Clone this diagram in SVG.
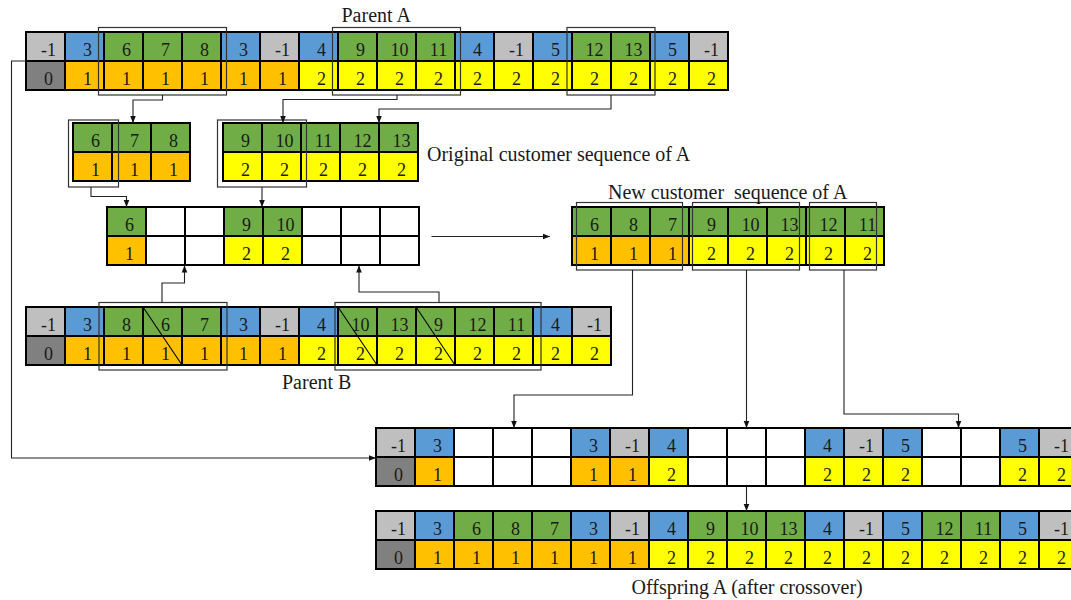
<svg xmlns="http://www.w3.org/2000/svg" width="1071" height="600" viewBox="0 0 1071 600">
<style>
rect{stroke:#000;stroke-width:2}
.l{fill:#BFBFBF}.d{fill:#808080}.b{fill:#5B9BD5}.g{fill:#70AD47}.o{fill:#FFC000}.y{fill:#FFFF00}.w{fill:#FFFFFF}
.br{fill:none;stroke:#333;stroke-width:1.2}
text{font-family:"Liberation Serif","Times New Roman",serif;fill:#1a1a1a}
.t{font-size:18px;text-anchor:middle}
.lab{font-size:20px;white-space:pre}
.c{fill:none;stroke:#222;stroke-width:1.1}
.dg{stroke:#000;stroke-width:1.1}
</style>
<defs>
<marker id="ah" viewBox="0 0 10 10" refX="10" refY="5" markerWidth="8" markerHeight="7" orient="auto" markerUnits="userSpaceOnUse"><path d="M0,1 L10,5 L0,9 z" fill="#111"/></marker>
</defs>

<g id="parentA">
<rect class="l" x="26" y="32" width="39" height="29"/><rect class="d" x="26" y="61" width="39" height="29"/>
<rect class="b" x="65" y="32" width="39" height="29"/><rect class="o" x="65" y="61" width="39" height="29"/>
<rect class="g" x="104" y="32" width="39" height="29"/><rect class="o" x="104" y="61" width="39" height="29"/>
<rect class="g" x="143" y="32" width="39" height="29"/><rect class="o" x="143" y="61" width="39" height="29"/>
<rect class="g" x="182" y="32" width="39" height="29"/><rect class="o" x="182" y="61" width="39" height="29"/>
<rect class="b" x="221" y="32" width="39" height="29"/><rect class="o" x="221" y="61" width="39" height="29"/>
<rect class="l" x="260" y="32" width="39" height="29"/><rect class="o" x="260" y="61" width="39" height="29"/>
<rect class="b" x="299" y="32" width="39" height="29"/><rect class="y" x="299" y="61" width="39" height="29"/>
<rect class="g" x="338" y="32" width="39" height="29"/><rect class="y" x="338" y="61" width="39" height="29"/>
<rect class="g" x="377" y="32" width="39" height="29"/><rect class="y" x="377" y="61" width="39" height="29"/>
<rect class="g" x="416" y="32" width="39" height="29"/><rect class="y" x="416" y="61" width="39" height="29"/>
<rect class="b" x="455" y="32" width="39" height="29"/><rect class="y" x="455" y="61" width="39" height="29"/>
<rect class="l" x="494" y="32" width="39" height="29"/><rect class="y" x="494" y="61" width="39" height="29"/>
<rect class="b" x="533" y="32" width="39" height="29"/><rect class="y" x="533" y="61" width="39" height="29"/>
<rect class="g" x="572" y="32" width="39" height="29"/><rect class="y" x="572" y="61" width="39" height="29"/>
<rect class="g" x="611" y="32" width="39" height="29"/><rect class="y" x="611" y="61" width="39" height="29"/>
<rect class="b" x="650" y="32" width="39" height="29"/><rect class="y" x="650" y="61" width="39" height="29"/>
<rect class="l" x="689" y="32" width="39" height="29"/><rect class="y" x="689" y="61" width="39" height="29"/>
<text class="t" y="55.5"><tspan x="48.5">-1</tspan><tspan x="87.5">3</tspan><tspan x="126.5">6</tspan><tspan x="165.5">7</tspan><tspan x="204.5">8</tspan><tspan x="243.5">3</tspan><tspan x="282.5">-1</tspan><tspan x="321.5">4</tspan><tspan x="360.5">9</tspan><tspan x="399.5">10</tspan><tspan x="438.5">11</tspan><tspan x="477.5">4</tspan><tspan x="516.5">-1</tspan><tspan x="555.5">5</tspan><tspan x="594.5">12</tspan><tspan x="633.5">13</tspan><tspan x="672.5">5</tspan><tspan x="711.5">-1</tspan></text>
<text class="t" y="84.5"><tspan x="48.5">0</tspan><tspan x="87.5">1</tspan><tspan x="126.5">1</tspan><tspan x="165.5">1</tspan><tspan x="204.5">1</tspan><tspan x="243.5">1</tspan><tspan x="282.5">1</tspan><tspan x="321.5">2</tspan><tspan x="360.5">2</tspan><tspan x="399.5">2</tspan><tspan x="438.5">2</tspan><tspan x="477.5">2</tspan><tspan x="516.5">2</tspan><tspan x="555.5">2</tspan><tspan x="594.5">2</tspan><tspan x="633.5">2</tspan><tspan x="672.5">2</tspan><tspan x="711.5">2</tspan></text>
<rect class="br" x="98.5" y="27.5" width="128" height="67.5"/>
<rect class="br" x="332.5" y="27.5" width="128" height="67.5"/>
<rect class="br" x="567" y="27.5" width="88" height="67.5"/>
<text class="lab" x="341.5" y="22">Parent A</text>
</g>

<g id="origA1">
<rect class="g" x="73" y="123" width="39" height="29"/><rect class="o" x="73" y="152" width="39" height="29"/>
<rect class="g" x="112" y="123" width="39" height="29"/><rect class="o" x="112" y="152" width="39" height="29"/>
<rect class="g" x="151" y="123" width="39" height="29"/><rect class="o" x="151" y="152" width="39" height="29"/>
<text class="t" y="146.5"><tspan x="95.5">6</tspan><tspan x="134.5">7</tspan><tspan x="173.5">8</tspan></text>
<text class="t" y="175.5"><tspan x="95.5">1</tspan><tspan x="134.5">1</tspan><tspan x="173.5">1</tspan></text>
<rect class="br" x="68.5" y="120" width="50" height="67"/>
</g>

<g id="origA2">
<rect class="g" x="223" y="123" width="39" height="29"/><rect class="y" x="223" y="152" width="39" height="29"/>
<rect class="g" x="262" y="123" width="39" height="29"/><rect class="y" x="262" y="152" width="39" height="29"/>
<rect class="g" x="301" y="123" width="39" height="29"/><rect class="y" x="301" y="152" width="39" height="29"/>
<rect class="g" x="340" y="123" width="39" height="29"/><rect class="y" x="340" y="152" width="39" height="29"/>
<rect class="g" x="379" y="123" width="39" height="29"/><rect class="y" x="379" y="152" width="39" height="29"/>
<text class="t" y="146.5"><tspan x="245.5">9</tspan><tspan x="284.5">10</tspan><tspan x="323.5">11</tspan><tspan x="362.5">12</tspan><tspan x="401.5">13</tspan></text>
<text class="t" y="175.5"><tspan x="245.5">2</tspan><tspan x="284.5">2</tspan><tspan x="323.5">2</tspan><tspan x="362.5">2</tspan><tspan x="401.5">2</tspan></text>
<rect class="br" x="217.5" y="120" width="89" height="67"/>
<text class="lab" x="427" y="161">Original customer sequence of A</text>
</g>

<g id="working">
<rect class="g" x="107" y="207" width="39" height="29"/><rect class="o" x="107" y="236" width="39" height="29"/>
<rect class="w" x="146" y="207" width="39" height="29"/><rect class="w" x="146" y="236" width="39" height="29"/>
<rect class="w" x="185" y="207" width="39" height="29"/><rect class="w" x="185" y="236" width="39" height="29"/>
<rect class="g" x="224" y="207" width="39" height="29"/><rect class="y" x="224" y="236" width="39" height="29"/>
<rect class="g" x="263" y="207" width="39" height="29"/><rect class="y" x="263" y="236" width="39" height="29"/>
<rect class="w" x="302" y="207" width="39" height="29"/><rect class="w" x="302" y="236" width="39" height="29"/>
<rect class="w" x="341" y="207" width="39" height="29"/><rect class="w" x="341" y="236" width="39" height="29"/>
<rect class="w" x="380" y="207" width="39" height="29"/><rect class="w" x="380" y="236" width="39" height="29"/>
<text class="t" y="230.5"><tspan x="129.5">6</tspan><tspan x="246.5">9</tspan><tspan x="285.5">10</tspan></text>
<text class="t" y="259.5"><tspan x="129.5">1</tspan><tspan x="246.5">2</tspan><tspan x="285.5">2</tspan></text>
</g>

<g id="newA">
<rect class="g" x="572" y="207" width="39" height="29"/><rect class="o" x="572" y="236" width="39" height="29"/>
<rect class="g" x="611" y="207" width="39" height="29"/><rect class="o" x="611" y="236" width="39" height="29"/>
<rect class="g" x="650" y="207" width="39" height="29"/><rect class="o" x="650" y="236" width="39" height="29"/>
<rect class="g" x="689" y="207" width="39" height="29"/><rect class="y" x="689" y="236" width="39" height="29"/>
<rect class="g" x="728" y="207" width="39" height="29"/><rect class="y" x="728" y="236" width="39" height="29"/>
<rect class="g" x="767" y="207" width="39" height="29"/><rect class="y" x="767" y="236" width="39" height="29"/>
<rect class="g" x="806" y="207" width="39" height="29"/><rect class="y" x="806" y="236" width="39" height="29"/>
<rect class="g" x="845" y="207" width="39" height="29"/><rect class="y" x="845" y="236" width="39" height="29"/>
<text class="t" y="230.5"><tspan x="594.5">6</tspan><tspan x="633.5">8</tspan><tspan x="672.5">7</tspan><tspan x="711.5">9</tspan><tspan x="750.5">10</tspan><tspan x="789.5">13</tspan><tspan x="828.5">12</tspan><tspan x="867.5">11</tspan></text>
<text class="t" y="259.5"><tspan x="594.5">1</tspan><tspan x="633.5">1</tspan><tspan x="672.5">1</tspan><tspan x="711.5">2</tspan><tspan x="750.5">2</tspan><tspan x="789.5">2</tspan><tspan x="828.5">2</tspan><tspan x="867.5">2</tspan></text>
<rect class="br" x="576.5" y="202.5" width="106" height="67.5"/>
<rect class="br" x="692.5" y="202.5" width="107" height="67.5"/>
<rect class="br" x="809.5" y="202.5" width="67" height="67.5"/>
<text class="lab" x="608" y="199" xml:space="preserve">New customer  sequence of A</text>
</g>

<g id="parentB">
<rect class="l" x="26" y="307" width="39" height="29"/><rect class="d" x="26" y="336" width="39" height="29"/>
<rect class="b" x="65" y="307" width="39" height="29"/><rect class="o" x="65" y="336" width="39" height="29"/>
<rect class="g" x="104" y="307" width="39" height="29"/><rect class="o" x="104" y="336" width="39" height="29"/>
<rect class="g" x="143" y="307" width="39" height="29"/><rect class="o" x="143" y="336" width="39" height="29"/>
<rect class="g" x="182" y="307" width="39" height="29"/><rect class="o" x="182" y="336" width="39" height="29"/>
<rect class="b" x="221" y="307" width="39" height="29"/><rect class="o" x="221" y="336" width="39" height="29"/>
<rect class="l" x="260" y="307" width="39" height="29"/><rect class="o" x="260" y="336" width="39" height="29"/>
<rect class="b" x="299" y="307" width="39" height="29"/><rect class="y" x="299" y="336" width="39" height="29"/>
<rect class="g" x="338" y="307" width="39" height="29"/><rect class="y" x="338" y="336" width="39" height="29"/>
<rect class="g" x="377" y="307" width="39" height="29"/><rect class="y" x="377" y="336" width="39" height="29"/>
<rect class="g" x="416" y="307" width="39" height="29"/><rect class="y" x="416" y="336" width="39" height="29"/>
<rect class="g" x="455" y="307" width="39" height="29"/><rect class="y" x="455" y="336" width="39" height="29"/>
<rect class="g" x="494" y="307" width="39" height="29"/><rect class="y" x="494" y="336" width="39" height="29"/>
<rect class="b" x="533" y="307" width="39" height="29"/><rect class="y" x="533" y="336" width="39" height="29"/>
<rect class="l" x="572" y="307" width="39" height="29"/><rect class="y" x="572" y="336" width="39" height="29"/>
<text class="t" y="330.5"><tspan x="48.5">-1</tspan><tspan x="87.5">3</tspan><tspan x="126.5">8</tspan><tspan x="165.5">6</tspan><tspan x="204.5">7</tspan><tspan x="243.5">3</tspan><tspan x="282.5">-1</tspan><tspan x="321.5">4</tspan><tspan x="360.5">10</tspan><tspan x="399.5">13</tspan><tspan x="438.5">9</tspan><tspan x="477.5">12</tspan><tspan x="516.5">11</tspan><tspan x="555.5">4</tspan><tspan x="594.5">-1</tspan></text>
<text class="t" y="359.5"><tspan x="48.5">0</tspan><tspan x="87.5">1</tspan><tspan x="126.5">1</tspan><tspan x="165.5">1</tspan><tspan x="204.5">1</tspan><tspan x="243.5">1</tspan><tspan x="282.5">1</tspan><tspan x="321.5">2</tspan><tspan x="360.5">2</tspan><tspan x="399.5">2</tspan><tspan x="438.5">2</tspan><tspan x="477.5">2</tspan><tspan x="516.5">2</tspan><tspan x="555.5">2</tspan><tspan x="594.5">2</tspan></text>
<line class="dg" x1="143" y1="307" x2="182" y2="365"/>
<line class="dg" x1="338" y1="307" x2="377" y2="365"/>
<line class="dg" x1="416" y1="307" x2="455" y2="365"/>
<rect class="br" x="99" y="302.5" width="128" height="67.5"/>
<rect class="br" x="335" y="302.5" width="206" height="67.5"/>
<text class="lab" x="282" y="389">Parent B</text>
</g>

<g id="offspringPartial">
<rect class="l" x="376" y="428" width="39" height="29"/><rect class="d" x="376" y="457" width="39" height="29"/>
<rect class="b" x="415" y="428" width="39" height="29"/><rect class="o" x="415" y="457" width="39" height="29"/>
<rect class="w" x="454" y="428" width="39" height="29"/><rect class="w" x="454" y="457" width="39" height="29"/>
<rect class="w" x="493" y="428" width="39" height="29"/><rect class="w" x="493" y="457" width="39" height="29"/>
<rect class="w" x="532" y="428" width="39" height="29"/><rect class="w" x="532" y="457" width="39" height="29"/>
<rect class="b" x="571" y="428" width="39" height="29"/><rect class="o" x="571" y="457" width="39" height="29"/>
<rect class="l" x="610" y="428" width="39" height="29"/><rect class="o" x="610" y="457" width="39" height="29"/>
<rect class="b" x="649" y="428" width="39" height="29"/><rect class="y" x="649" y="457" width="39" height="29"/>
<rect class="w" x="688" y="428" width="39" height="29"/><rect class="w" x="688" y="457" width="39" height="29"/>
<rect class="w" x="727" y="428" width="39" height="29"/><rect class="w" x="727" y="457" width="39" height="29"/>
<rect class="w" x="766" y="428" width="39" height="29"/><rect class="w" x="766" y="457" width="39" height="29"/>
<rect class="b" x="805" y="428" width="39" height="29"/><rect class="y" x="805" y="457" width="39" height="29"/>
<rect class="l" x="844" y="428" width="39" height="29"/><rect class="y" x="844" y="457" width="39" height="29"/>
<rect class="b" x="883" y="428" width="39" height="29"/><rect class="y" x="883" y="457" width="39" height="29"/>
<rect class="w" x="922" y="428" width="39" height="29"/><rect class="w" x="922" y="457" width="39" height="29"/>
<rect class="w" x="961" y="428" width="39" height="29"/><rect class="w" x="961" y="457" width="39" height="29"/>
<rect class="b" x="1000" y="428" width="39" height="29"/><rect class="y" x="1000" y="457" width="39" height="29"/>
<rect class="l" x="1039" y="428" width="39" height="29"/><rect class="y" x="1039" y="457" width="39" height="29"/>
<text class="t" y="451.5"><tspan x="398.5">-1</tspan><tspan x="437.5">3</tspan><tspan x="593.5">3</tspan><tspan x="632.5">-1</tspan><tspan x="671.5">4</tspan><tspan x="827.5">4</tspan><tspan x="866.5">-1</tspan><tspan x="905.5">5</tspan><tspan x="1022.5">5</tspan><tspan x="1061.5">-1</tspan></text>
<text class="t" y="480.5"><tspan x="398.5">0</tspan><tspan x="437.5">1</tspan><tspan x="593.5">1</tspan><tspan x="632.5">1</tspan><tspan x="671.5">2</tspan><tspan x="827.5">2</tspan><tspan x="866.5">2</tspan><tspan x="905.5">2</tspan><tspan x="1022.5">2</tspan><tspan x="1061.5">2</tspan></text>
</g>

<g id="offspringA">
<rect class="l" x="376" y="511" width="39" height="29"/><rect class="d" x="376" y="540" width="39" height="29"/>
<rect class="b" x="415" y="511" width="39" height="29"/><rect class="o" x="415" y="540" width="39" height="29"/>
<rect class="g" x="454" y="511" width="39" height="29"/><rect class="o" x="454" y="540" width="39" height="29"/>
<rect class="g" x="493" y="511" width="39" height="29"/><rect class="o" x="493" y="540" width="39" height="29"/>
<rect class="g" x="532" y="511" width="39" height="29"/><rect class="o" x="532" y="540" width="39" height="29"/>
<rect class="b" x="571" y="511" width="39" height="29"/><rect class="o" x="571" y="540" width="39" height="29"/>
<rect class="l" x="610" y="511" width="39" height="29"/><rect class="o" x="610" y="540" width="39" height="29"/>
<rect class="b" x="649" y="511" width="39" height="29"/><rect class="y" x="649" y="540" width="39" height="29"/>
<rect class="g" x="688" y="511" width="39" height="29"/><rect class="y" x="688" y="540" width="39" height="29"/>
<rect class="g" x="727" y="511" width="39" height="29"/><rect class="y" x="727" y="540" width="39" height="29"/>
<rect class="g" x="766" y="511" width="39" height="29"/><rect class="y" x="766" y="540" width="39" height="29"/>
<rect class="b" x="805" y="511" width="39" height="29"/><rect class="y" x="805" y="540" width="39" height="29"/>
<rect class="l" x="844" y="511" width="39" height="29"/><rect class="y" x="844" y="540" width="39" height="29"/>
<rect class="b" x="883" y="511" width="39" height="29"/><rect class="y" x="883" y="540" width="39" height="29"/>
<rect class="g" x="922" y="511" width="39" height="29"/><rect class="y" x="922" y="540" width="39" height="29"/>
<rect class="g" x="961" y="511" width="39" height="29"/><rect class="y" x="961" y="540" width="39" height="29"/>
<rect class="b" x="1000" y="511" width="39" height="29"/><rect class="y" x="1000" y="540" width="39" height="29"/>
<rect class="l" x="1039" y="511" width="39" height="29"/><rect class="y" x="1039" y="540" width="39" height="29"/>
<text class="t" y="534.5"><tspan x="398.5">-1</tspan><tspan x="437.5">3</tspan><tspan x="476.5">6</tspan><tspan x="515.5">8</tspan><tspan x="554.5">7</tspan><tspan x="593.5">3</tspan><tspan x="632.5">-1</tspan><tspan x="671.5">4</tspan><tspan x="710.5">9</tspan><tspan x="749.5">10</tspan><tspan x="788.5">13</tspan><tspan x="827.5">4</tspan><tspan x="866.5">-1</tspan><tspan x="905.5">5</tspan><tspan x="944.5">12</tspan><tspan x="983.5">11</tspan><tspan x="1022.5">5</tspan><tspan x="1061.5">-1</tspan></text>
<text class="t" y="563.5"><tspan x="398.5">0</tspan><tspan x="437.5">1</tspan><tspan x="476.5">1</tspan><tspan x="515.5">1</tspan><tspan x="554.5">1</tspan><tspan x="593.5">1</tspan><tspan x="632.5">1</tspan><tspan x="671.5">2</tspan><tspan x="710.5">2</tspan><tspan x="749.5">2</tspan><tspan x="788.5">2</tspan><tspan x="827.5">2</tspan><tspan x="866.5">2</tspan><tspan x="905.5">2</tspan><tspan x="944.5">2</tspan><tspan x="983.5">2</tspan><tspan x="1022.5">2</tspan><tspan x="1061.5">2</tspan></text>
<text class="lab" x="631.5" y="594">Offspring A (after crossover)</text>
</g>

<g id="connectors">
<path class="c" d="M162.5,95 V100 H133 V123" marker-end="url(#ah)"/>
<path class="c" d="M397,95 V99.5 H283 V123" marker-end="url(#ah)"/>
<path class="c" d="M611,95 V109 H379 V123" marker-end="url(#ah)"/>
<path class="c" d="M91,187 V196.5 H126.5 V207" marker-end="url(#ah)"/>
<path class="c" d="M262,187 V207" marker-end="url(#ah)"/>
<path class="c" d="M162,302.5 V283 H184.5 V265.5" marker-end="url(#ah)"/>
<path class="c" d="M439,302.5 V292 H359 V265.5" marker-end="url(#ah)"/>
<path class="c" d="M431.5,236.5 H550" marker-end="url(#ah)"/>
<path class="c" d="M26,61 H11.5 V458 H376" marker-end="url(#ah)"/>
<path class="c" d="M632.5,270 V395 H514 V428" marker-end="url(#ah)"/>
<path class="c" d="M746.5,270 V428" marker-end="url(#ah)"/>
<path class="c" d="M844,270 V414 H958.5 V428" marker-end="url(#ah)"/>
<path class="c" d="M746.5,487 V511" marker-end="url(#ah)"/>
</g>
</svg>
